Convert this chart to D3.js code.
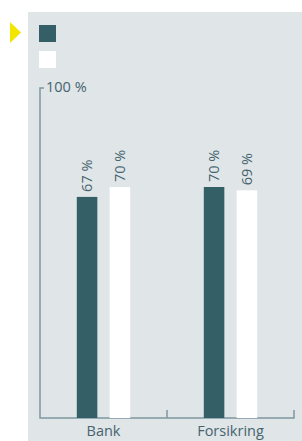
<!DOCTYPE html>
<html><head><meta charset="utf-8">
<script src="https://cdn.jsdelivr.net/npm/d3@7"></script>
<style>html,body{margin:0;padding:0;background:#fff;}svg{display:block;}</style>
</head><body>
<svg id="c" width="302" height="441"></svg>
<script>
const categories = ["Bank", "Forsikring"];
const seriesNames = ["A", "B"];
const seriesA = [67, 70];
const seriesB = [70, 69];
const yTicks = [100];

const W = 302, H = 441;
const svg = d3.select("#c");
const font = "'Open Sans', 'Noto Sans', sans-serif";
const txt = "#45646e";
const axisCol = "#7d97a0";
const colors = ["#355f67", "#ffffff"];

svg.append("rect").attr("x", 28).attr("y", 12).attr("width", W - 28).attr("height", H - 12).attr("fill", "#e0e5e8");
svg.append("path").attr("d", "M10,22 L21,32.5 L10,43 Z").attr("fill", "#f2e600");

// legend
seriesNames.forEach((s, i) => {
  svg.append("rect").attr("x", 39).attr("y", 25 + i * 26).attr("width", 17).attr("height", 17).attr("fill", colors[i]);
});

const m = {left: 40, right: 294, top: 88, bottom: 418};
const x0 = d3.scaleBand().domain(categories).range([m.left, m.right]);
const x1 = d3.scaleBand().domain(seriesNames).range([0, x0.bandwidth()]).paddingInner(0.375).paddingOuter(1.12);
const y = d3.scaleLinear().domain([0, 100]).range([m.bottom, m.top]);

// axes
svg.append("path").attr("d", `M${m.left + 4},${y(100)} H${m.left} V${m.bottom} H${m.right} V${m.bottom - 8}`)
  .attr("fill", "none").attr("stroke", axisCol).attr("stroke-width", 1.5);
svg.append("path").attr("d", `M${x0("Forsikring")},${m.bottom} V${m.bottom - 8}`)
  .attr("stroke", axisCol).attr("stroke-width", 1.5);
yTicks.forEach(t => {
  svg.append("text").attr("x", m.left + 6).attr("y", y(t) + 4).attr("font-family", font).attr("font-size", 14.5)
    .attr("fill", txt).text(t + " %");
});

const data = categories.map((c, i) => ({c, vals: [seriesA[i], seriesB[i]]}));
const g = svg.selectAll("g.cat").data(data).join("g").attr("transform", d => `translate(${x0(d.c)},0)`);
g.selectAll("rect").data(d => d.vals.map((v, j) => ({v, s: seriesNames[j]}))).join("rect")
  .attr("x", d => x1(d.s)).attr("width", x1.bandwidth())
  .attr("y", d => y(d.v)).attr("height", d => m.bottom - y(d.v))
  .attr("fill", (d, j) => colors[j]);
g.selectAll("text.v").data(d => d.vals.map((v, j) => ({v, s: seriesNames[j]}))).join("text")
  .attr("class", "v")
  .attr("transform", d => `translate(${x1(d.s) + x1.bandwidth() / 2 + 5},${y(d.v) - 5}) rotate(-90)`)
  .attr("font-family", font).attr("font-size", 14.5).attr("fill", txt)
  .text(d => d.v + " %");

svg.selectAll("text.cat").data(categories).join("text").attr("class", "cat")
  .attr("x", d => x0(d) + x0.bandwidth() / 2).attr("y", 436).attr("text-anchor", "middle")
  .attr("font-family", font).attr("font-size", 14.5).attr("fill", txt).text(d => d);
</script>
</body></html>
